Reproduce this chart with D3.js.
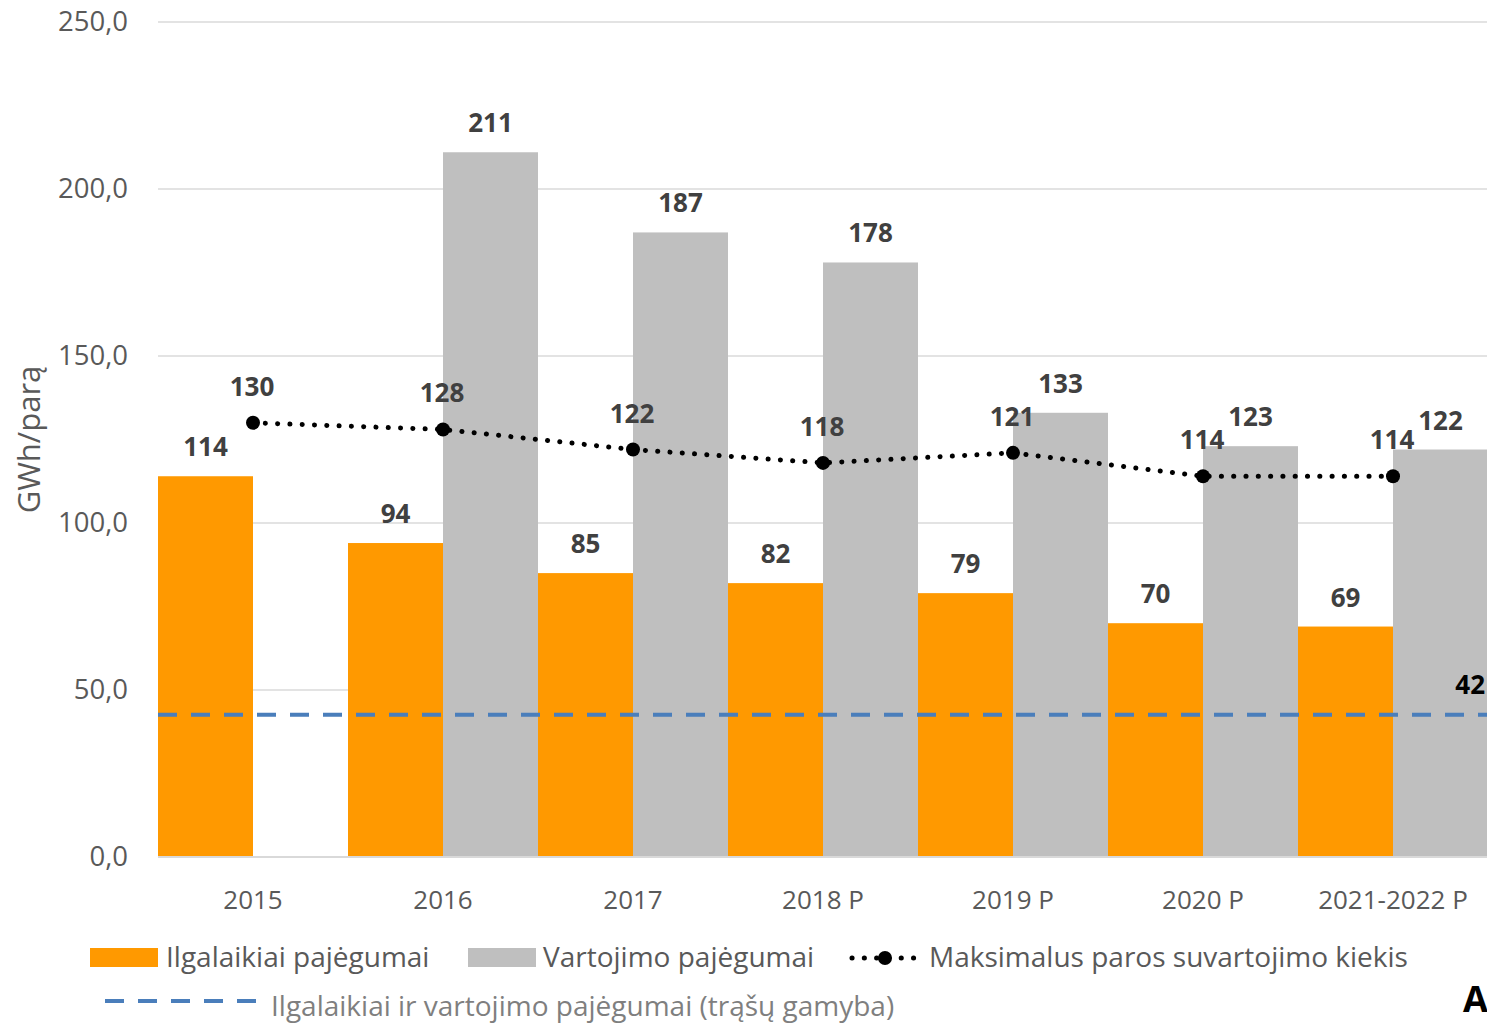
<!DOCTYPE html>
<html>
<head>
<meta charset="utf-8">
<script src="https://cdn.jsdelivr.net/npm/d3@7"></script>
<style>
  body { margin:0; background:#fff; }
  svg text { font-family:"Open Sans", sans-serif; }
</style>
</head>
<body>
<svg id="chart"></svg>
<script>
var years = ["2015","2016","2017","2018 P","2019 P","2020 P","2021-2022 P"]
var longTerm = [114,94,85,82,79,70,69]
var consumption = [null,211,187,178,133,123,122]
var maxDaily = [130,128,122,118,121,114,114]
var fertilizer = 42
var yTicks = [0,50,100,150,200,250]

var screen = {width:1487, height:1024}
var margin = {left:158, right:0, top:22, bottom:167}

var svg = d3.select("#chart")
    .attr("width", screen.width)
    .attr("height", screen.height)

var xScale = d3.scaleBand()
    .domain(years)
    .range([margin.left, margin.left + 190*7])
    .padding(0)

var yScale = d3.scaleLinear()
    .domain([0,250])
    .range([screen.height - margin.bottom, margin.top])

// gridlines
svg.append("g")
   .selectAll("line")
   .data(yTicks)
   .enter()
   .append("line")
   .attr("x1", margin.left)
   .attr("x2", screen.width)
   .attr("y1", function(d){return yScale(d)})
   .attr("y2", function(d){return yScale(d)})
   .attr("stroke", function(d){return d==0 ? "#d9d9d9" : "#e3e3e3"})
   .attr("stroke-width", 2)

// y axis labels
var yAxis = d3.axisLeft(yScale)
    .tickValues(yTicks)
    .tickSize(0)
    .tickPadding(30)
    .tickFormat(function(d){return d3.format(".1f")(d).replace(".", ",")})
svg.append("g")
   .attr("transform", "translate(" + margin.left + ",0)")
   .call(yAxis)
   .call(function(g){g.select(".domain").remove()})
   .selectAll("text")
   .attr("font-size", 27.5)
   .attr("fill", "#595959")
   .attr("font-family", "Open Sans")

svg.append("text")
   .attr("transform", "translate(40," + yScale(125) + ") rotate(-90)")
   .attr("text-anchor", "middle")
   .attr("font-size", 31)
   .attr("fill", "#595959")
   .text("GWh/parą")

var half = xScale.bandwidth()/2

// orange bars
svg.append("g")
   .selectAll("rect")
   .data(longTerm)
   .enter()
   .append("rect")
   .attr("x", function(d,i){return xScale(years[i])})
   .attr("y", function(d){return yScale(d)})
   .attr("width", half)
   .attr("height", function(d){return yScale(0) - yScale(d)})
   .attr("fill", "#ff9900")

// gray bars
var grayData = consumption.map(function(v,i){return {v:v, i:i}}).filter(function(d){return d.v != null})
svg.append("g")
   .selectAll("rect")
   .data(grayData)
   .enter()
   .append("rect")
   .attr("x", function(d){return xScale(years[d.i]) + half})
   .attr("y", function(d){return yScale(d.v)})
   .attr("width", half)
   .attr("height", function(d){return yScale(0) - yScale(d.v)})
   .attr("fill", "#bfbfbf")

// re-draw baseline over bars
svg.append("line")
   .attr("x1", margin.left).attr("x2", screen.width)
   .attr("y1", yScale(0)).attr("y2", yScale(0))
   .attr("stroke", "#d9d9d9").attr("stroke-width", 2)

// dashed fertilizer line
svg.append("line")
   .attr("x1", margin.left).attr("x2", screen.width)
   .attr("y1", yScale(fertilizer) - 2).attr("y2", yScale(fertilizer) - 2)
   .attr("stroke", "#4a7ebb")
   .attr("stroke-width", 4)
   .attr("stroke-dasharray", "19,14")

// dotted line
var line = d3.line()
    .x(function(d,i){return xScale(years[i]) + half})
    .y(function(d){return yScale(d)})
svg.append("path")
   .datum(maxDaily)
   .attr("d", line)
   .attr("fill", "none")
   .attr("stroke", "#000")
   .attr("stroke-width", 5)
   .attr("stroke-linecap", "round")
   .attr("stroke-dasharray", "0.1,12.2")

svg.append("g")
   .selectAll("circle")
   .data(maxDaily)
   .enter()
   .append("circle")
   .attr("cx", function(d,i){return xScale(years[i]) + half})
   .attr("cy", function(d){return yScale(d)})
   .attr("r", 7)
   .attr("fill", "#000")

// data labels
var labels = svg.append("g")
    .attr("font-size", 26)
    .attr("font-weight", "bold")
    .attr("fill", "#404040")
    .attr("text-anchor", "middle")

labels.selectAll(".lt")
   .data(longTerm)
   .enter()
   .append("text")
   .attr("x", function(d,i){return xScale(years[i]) + half/2})
   .attr("y", function(d){return yScale(d) - 20})
   .text(function(d){return d})

labels.selectAll(".co")
   .data(grayData)
   .enter()
   .append("text")
   .attr("x", function(d){return xScale(years[d.i]) + half*1.5})
   .attr("y", function(d){return yScale(d.v) - 20})
   .text(function(d){return d.v})

labels.selectAll(".mx")
   .data(maxDaily)
   .enter()
   .append("text")
   .attr("x", function(d,i){return xScale(years[i]) + half - 1})
   .attr("y", function(d){return yScale(d) - 27})
   .text(function(d){return d})

svg.append("text")
   .attr("x", 1485)
   .attr("y", yScale(fertilizer) - 23)
   .attr("text-anchor", "end")
   .attr("font-size", 26)
   .attr("font-weight", "bold")
   .attr("fill", "#000")
   .text(fertilizer)

// x axis labels
svg.append("g")
   .selectAll("text")
   .data(years)
   .enter()
   .append("text")
   .attr("x", function(d){return xScale(d) + half})
   .attr("y", 909)
   .attr("text-anchor", "middle")
   .attr("font-size", 26)
   .attr("fill", "#595959")
   .text(function(d){return d})

// legend
var leg = svg.append("g").attr("font-size", 28).attr("fill", "#595959")
leg.append("rect").attr("x", 90).attr("y", 948).attr("width", 68).attr("height", 19).attr("fill", "#ff9900")
leg.append("text").attr("x", 166).attr("y", 967).text("Ilgalaikiai pajėgumai")
leg.append("rect").attr("x", 468).attr("y", 948).attr("width", 68).attr("height", 19).attr("fill", "#bfbfbf")
leg.append("text").attr("x", 543).attr("y", 967).text("Vartojimo pajėgumai")
leg.append("line").attr("x1", 852).attr("x2", 916).attr("y1", 958).attr("y2", 958)
   .attr("stroke", "#000").attr("stroke-width", 5).attr("stroke-linecap", "round").attr("stroke-dasharray", "0.1,12.2")
leg.append("circle").attr("cx", 885).attr("cy", 958).attr("r", 7).attr("fill", "#000")
leg.append("text").attr("x", 929).attr("y", 967).text("Maksimalus paros suvartojimo kiekis")
leg.append("line").attr("x1", 105).attr("x2", 258).attr("y1", 1001).attr("y2", 1001)
   .attr("stroke", "#4a7ebb").attr("stroke-width", 4).attr("stroke-dasharray", "19,14")
leg.append("text").attr("x", 271).attr("y", 1016).attr("fill", "#7f7f7f").text("Ilgalaikiai ir vartojimo pajėgumai (trąšų gamyba)")

svg.append("text").attr("x", 1463).attr("y", 1012).attr("font-size", 36).attr("font-weight", "bold").attr("fill", "#000").text("A")
</script>
</body>
</html>
